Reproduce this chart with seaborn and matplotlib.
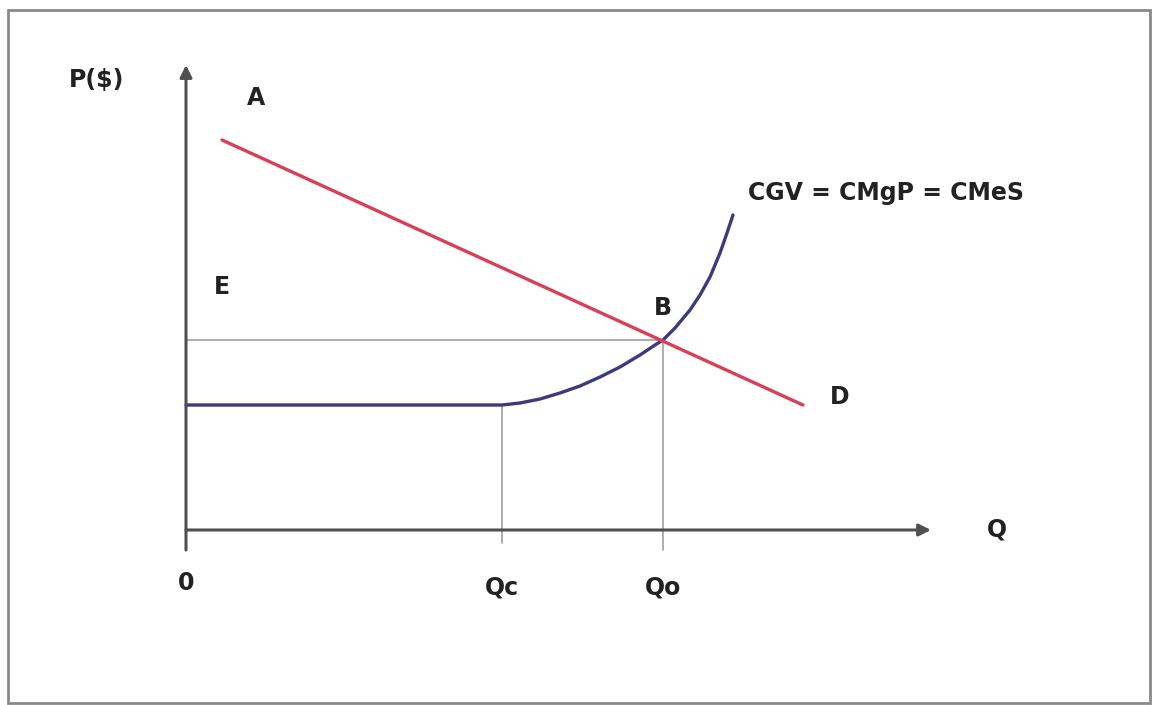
import matplotlib
matplotlib.use("Agg")
import matplotlib.pyplot as plt
import seaborn as sns
import pandas as pd
from matplotlib.patches import Rectangle

# Demand line (A -> D) in chart units
demand_q = [0.72, 12.34]
demand_p = [7.8, 2.5]

# Cost curve CGV = CMgP = CMeS: flat up to Qc, then rising
cost_q = [0.0, 6.32, 6.68, 7.08, 7.48, 7.88, 8.28, 8.68, 9.08, 9.38, 9.54,
          9.78, 10.08, 10.28, 10.48, 10.68, 10.82, 10.94]
cost_p = [2.5, 2.5, 2.54, 2.62, 2.74, 2.88, 3.06, 3.26, 3.5, 3.7, 3.8,
          4.04, 4.4, 4.7, 5.06, 5.54, 5.94, 6.3]

# Key quantities and price
q_c = 6.32
q_o = 9.54
p_e = 3.8
p_flat = 2.5

sns.set_style("white")
plt.rcParams['font.family'] = ['DejaVu Sans']

fig = plt.figure(figsize=(11.53, 7.05), dpi=100)
ax = fig.add_axes([0, 0, 1, 1])
ax.set_xlim(-3.72, 19.34)
ax.set_ylim(-3.5, 10.6)
ax.axis('off')

# outer frame
fig.patches.append(Rectangle((8 / 1153, 2 / 705), 1142 / 1153, 693 / 705,
                             transform=fig.transFigure, fill=False,
                             edgecolor='#8a8a8a', linewidth=2))

# guide lines
guide = '#a0a0a0'
ax.plot([0, q_o], [p_e, p_e], color=guide, lw=1.2)
ax.plot([q_c, q_c], [-0.26, p_flat], color=guide, lw=1.2)
ax.plot([q_o, q_o], [-0.4, p_e], color=guide, lw=1.2)

# axes with arrows
ax.annotate("", xy=(0, 9.3), xytext=(0, -0.4),
            arrowprops=dict(arrowstyle="-|>", color='#505050', lw=2.2,
                            mutation_scale=18, shrinkA=0, shrinkB=0))
ax.annotate("", xy=(14.9, 0), xytext=(0, 0),
            arrowprops=dict(arrowstyle="-|>", color='#505050', lw=2.2,
                            mutation_scale=18, shrinkA=0, shrinkB=0))

# curves
cost = pd.DataFrame({'Q': cost_q, 'P': cost_p})
demand = pd.DataFrame({'Q': demand_q, 'P': demand_p})
sns.lineplot(data=cost, x='Q', y='P', ax=ax, color='#3b3b7c', lw=2.4, sort=False)
sns.lineplot(data=demand, x='Q', y='P', ax=ax, color='#d93f55', lw=2.4, sort=False)

# labels
fs = 17
txt = dict(fontsize=fs, fontweight='bold', color='#222222')
ax.text(-1.78, 9.0, 'P($)', ha='center', va='center', **txt)
ax.text(1.4, 8.64, 'A', ha='center', va='center', **txt)
ax.text(11.24, 6.74, 'CGV = CMgP = CMeS', ha='left', va='center', **txt)
ax.text(0.72, 4.86, 'E', ha='center', va='center', **txt)
ax.text(9.54, 4.44, 'B', ha='center', va='center', **txt)
ax.text(13.08, 2.66, 'D', ha='center', va='center', **txt)
ax.text(16.22, 0.0, 'Q', ha='center', va='center', **txt)
ax.text(0.0, -1.06, '0', ha='center', va='center', **txt)
ax.text(q_c, -1.16, 'Qc', ha='center', va='center', **txt)
ax.text(q_o, -1.16, 'Qo', ha='center', va='center', **txt)

fig.savefig('out.png', dpi=100)
